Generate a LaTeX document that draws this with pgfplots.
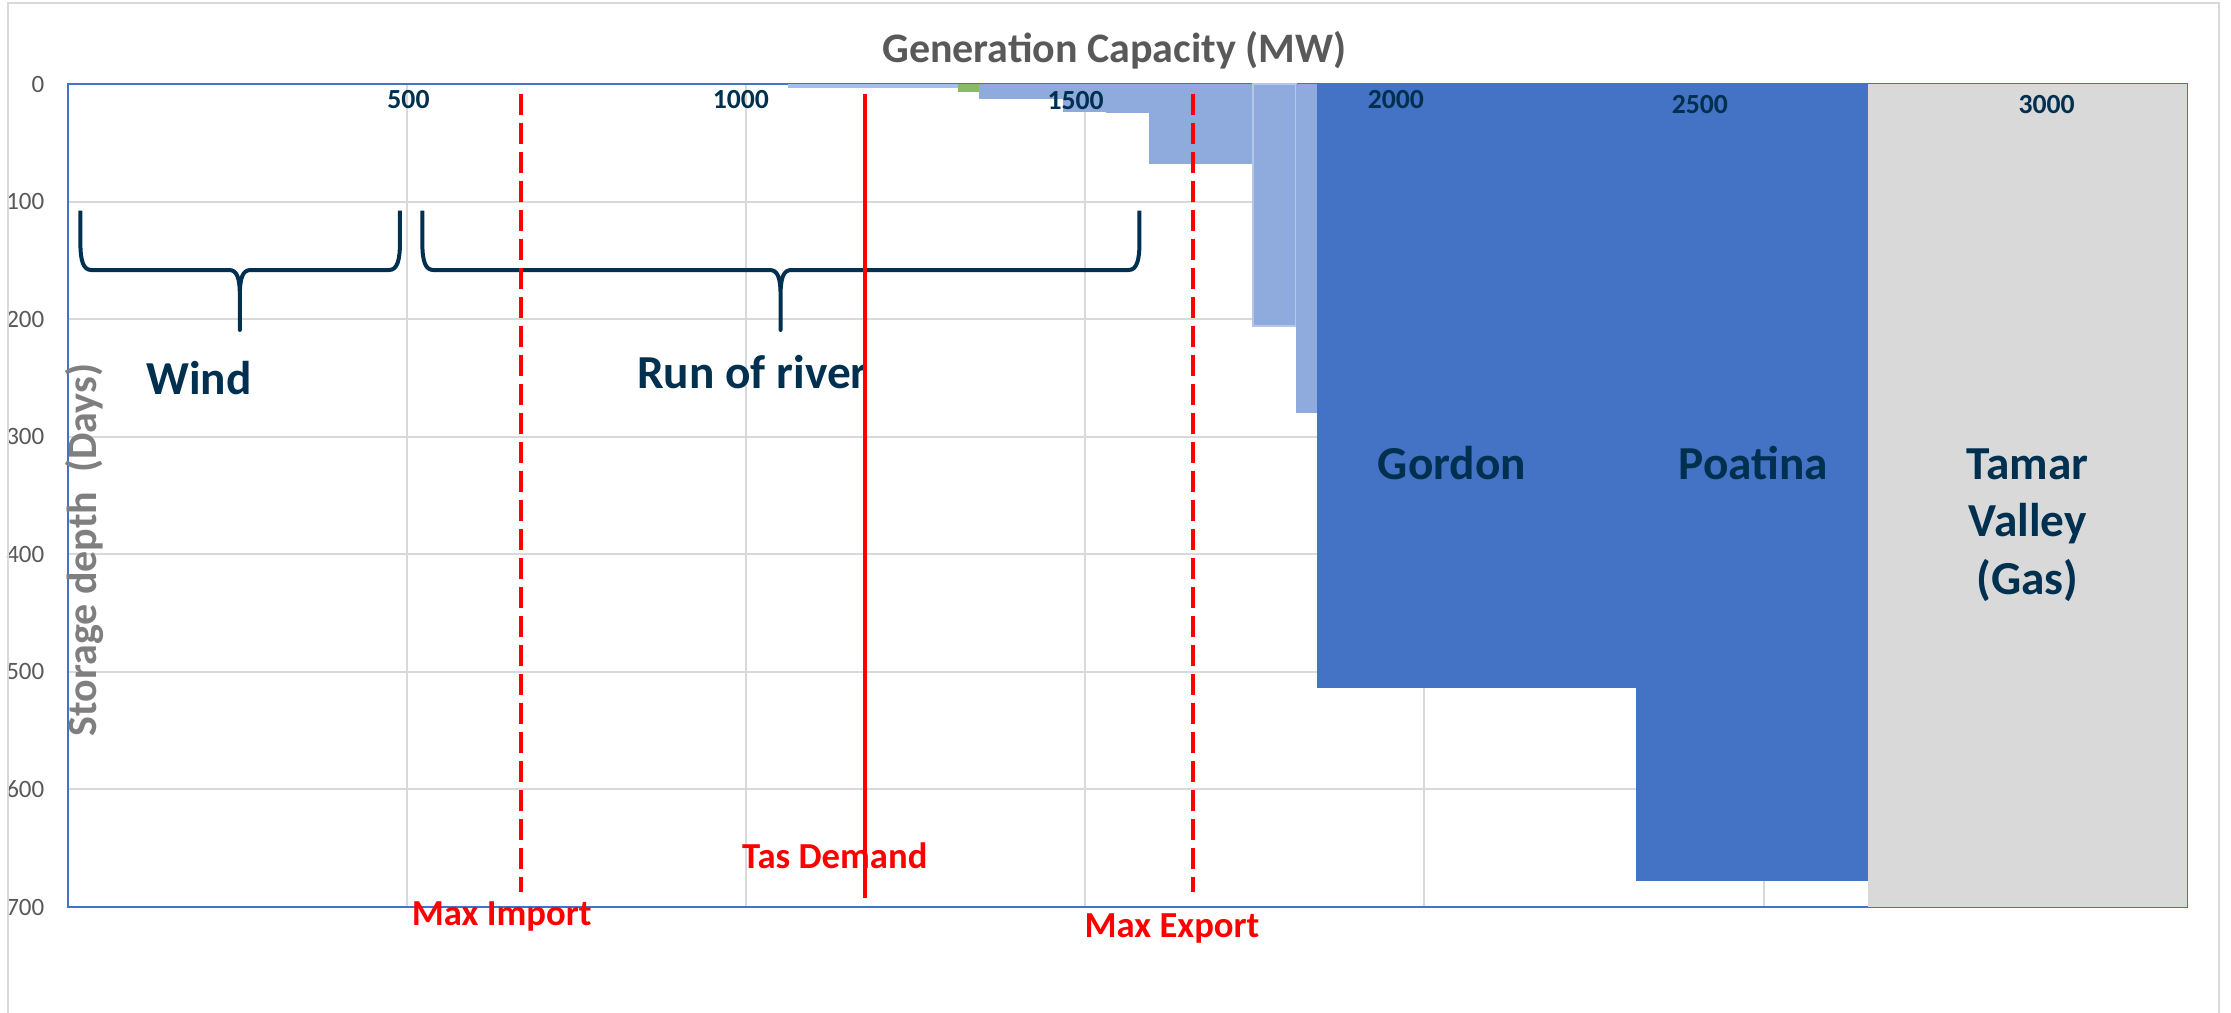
\documentclass[border=0pt]{standalone}
\usepackage{fontspec}
\setmainfont{Carlito}
\usepackage{pgfplots}
\pgfplotsset{compat=1.18}
\definecolor{navy}{RGB}{0,48,80}
\definecolor{dblue}{RGB}{68,114,196}
\definecolor{lblue}{RGB}{143,170,220}
\definecolor{sblue}{RGB}{157,195,230}
\definecolor{edgeblue}{RGB}{180,199,231}
\definecolor{lgreen}{RGB}{134,188,98}
\definecolor{gasgray}{RGB}{217,217,217}
\definecolor{gridgray}{RGB}{217,217,217}
\definecolor{titlegray}{RGB}{89,89,89}
\definecolor{labgray}{RGB}{127,127,127}
\definecolor{tred}{RGB}{255,0,0}
\newcommand\fs[1]{\fontsize{#1}{#1}\selectfont}
\begin{document}
\begin{tikzpicture}
\begin{axis}[
  at={(0,0)}, anchor=south west,
  scale only axis, width=635.85pt, height=246.9pt,
  xmin=0, xmax=3124, ymin=0, ymax=700, y dir=reverse,
  xtick={500,1000,...,3000}, xticklabels={},
  ytick={0,100,...,700},
  grid=major, major grid style={draw=gridgray, line width=0.6pt},
  major tick length=0pt,
  axis line style={draw=dblue, line width=0.6pt},
  yticklabel style={font=\fs{7.5}, text=titlegray, inner sep=0pt, xshift=-6.75pt},
  /pgf/number format/assume math mode=true,
  clip=false,
]
% storage bars (MW from, MW to, depth days)
\addplot[fill=sblue, draw=none] coordinates {(1062,3.7) (1312,3.7)} \closedcycle;
\addplot[fill=lgreen, draw=none] coordinates {(1312,6.5) (1344,6.5)} \closedcycle;
\addplot[fill=lblue, draw=none] coordinates {(1344,12.7) (1468,12.7)} \closedcycle;
\addplot[fill=lblue, draw=none] coordinates {(1468,24) (1531,24)} \closedcycle;
\addplot[fill=lblue, draw=none] coordinates {(1531,25) (1594,25)} \closedcycle;
\addplot[fill=lblue, draw=none] coordinates {(1594,67.7) (1747,67.7)} \closedcycle;
\addplot[fill=lblue, draw=edgeblue, line width=0.6pt] coordinates {(1747,206) (1811,206)} \closedcycle;
\addplot[fill=lblue, draw=none] coordinates {(1811,280) (1842,280)} \closedcycle;
\addplot[fill=dblue, draw=none] coordinates {(1842,513.7) (2312,513.7)} \closedcycle;
\addplot[fill=dblue, draw=none] coordinates {(2312,678) (2654,678)} \closedcycle;
\addplot[fill=gasgray, draw=none] coordinates {(2654,700) (3124,700)} \closedcycle;

% braces
\draw[navy, line width=1.2pt, line join=round]
  (19,107.8) -- (19,135) .. controls (19,150) and (23,158.2) .. (35,158.2)
  -- (238,158.2) .. controls (250,158.2) and (254,165) .. (254,180)
  -- (254,209.2) -- (254,180) .. controls (254,165) and (258,158.2) .. (270,158.2)
  -- (474,158.2) .. controls (486,158.2) and (490,150) .. (490,135) -- (490,107.8);
\draw[navy, line width=1.2pt, line join=round]
  (523,107.8) -- (523,135) .. controls (523,150) and (527,158.2) .. (539,158.2)
  -- (1035,158.2) .. controls (1047,158.2) and (1051,165) .. (1051,180)
  -- (1051,209.2) -- (1051,180) .. controls (1051,165) and (1055,158.2) .. (1067,158.2)
  -- (1564,158.2) .. controls (1576,158.2) and (1580,150) .. (1580,135) -- (1580,107.8);

% x tick labels placed inside the plot
\node[font=\fs{8.3}\bfseries, text=navy, anchor=base] at (502.6,20.7) {500};
\node[font=\fs{8.3}\bfseries, text=navy, anchor=base] at (992.6,20.7) {1000};
\node[font=\fs{8.3}\bfseries, text=navy, anchor=base] at (1486,22) {1500};
\node[font=\fs{8.3}\bfseries, text=navy, anchor=base] at (1958,20.7) {2000};
\node[font=\fs{8.3}\bfseries, text=navy, anchor=base] at (2406,25) {2500};
\node[font=\fs{8.3}\bfseries, text=navy, anchor=base] at (2917,25) {3000};

% titles
\node[font=\fs{12.6}\bfseries, text=titlegray, anchor=base] at (1543,-17.9) {Generation Capacity (MW)};
\node[font=\fs{12.6}\bfseries, text=labgray, rotate=90, anchor=base] at (43,396.4) {Storage depth\ \ (Days)};

% category labels
\node[font=\fs{14.2}\bfseries, text=navy, anchor=base] at (194,264.5) {Wind};
\node[font=\fs{14.2}\bfseries, text=navy, anchor=base] at (1009.6,259.4) {Run of river};
\node[font=\fs{14.2}\bfseries, text=navy, anchor=base] at (2040.5,336) {Gordon};
\node[font=\fs{14.2}\bfseries, text=navy, anchor=base] at (2485,336) {Poatina};
\node[font=\fs{14.2}\bfseries, text=navy, anchor=base] at (2889,336) {Tamar};
\node[font=\fs{14.2}\bfseries, text=navy, anchor=base] at (2889,385) {Valley};
\node[font=\fs{14.2}\bfseries, text=navy, anchor=base] at (2889,434.6) {(Gas)};

% red labels
\node[font=\fs{11}\bfseries, text=tred, anchor=base] at (1131,667) {Tas Demand};
\node[font=\fs{11}\bfseries, text=tred, anchor=base] at (640,715.4) {Max Import};
\node[font=\fs{11}\bfseries, text=tred, anchor=base] at (1628,725.8) {Max Export};

% reference lines
\addplot[tred, line width=1.2pt, dash pattern=on 6.3pt off 2.4pt] coordinates {(668,8.5) (668,687)};
\addplot[tred, line width=1.2pt, dash pattern=on 6.3pt off 2.4pt] coordinates {(1659,8.5) (1659,687)};
\addplot[tred, line width=1.2pt] coordinates {(1176,8.5) (1176,692)};
\end{axis}
\draw[gridgray, line width=0.6pt] (-17.7pt,-40pt) rectangle (645.45pt,271.2pt);
\pgfresetboundingbox
\useasboundingbox (-20.25pt,-31.8pt) rectangle (649.05pt,272.1pt);
\end{tikzpicture}
\end{document}
